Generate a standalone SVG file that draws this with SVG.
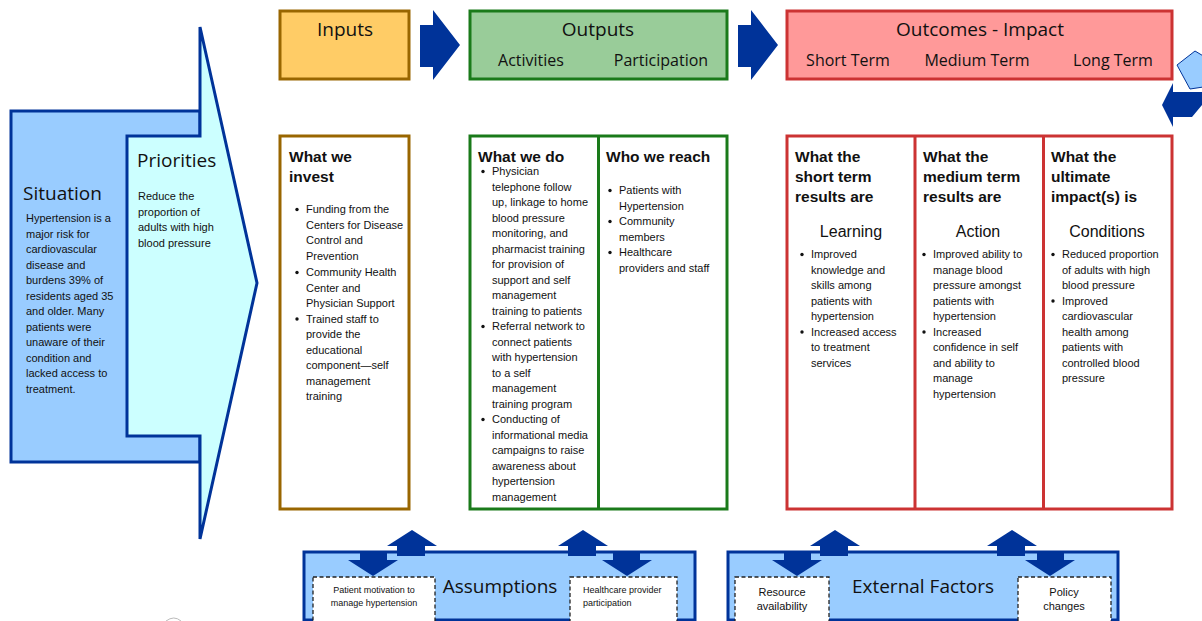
<svg xmlns="http://www.w3.org/2000/svg" width="1202" height="621" viewBox="0 0 1202 621">
<style>
.title{font-family:"Open Sans","Noto Sans",sans-serif;font-size:19px;fill:#111}
.sub{font-family:"Open Sans","Noto Sans",sans-serif;font-size:16px;fill:#111}
.body{font-family:"Liberation Sans",Arial,sans-serif;font-size:11px;fill:#111}
.hd{font-family:"Liberation Sans",Arial,sans-serif;font-size:15.5px;font-weight:bold;fill:#111}
.cat{font-family:"Liberation Sans",Arial,sans-serif;font-size:16px;fill:#111}
.small{font-family:"Liberation Sans",Arial,sans-serif;font-size:9px;fill:#111}
.small2{font-family:"Liberation Sans",Arial,sans-serif;font-size:11px;fill:#111}
.blue{stroke:#003399;stroke-width:3}
.arrow{fill:#003399}
.dash{fill:#fff;stroke:#222;stroke-width:1.3;stroke-dasharray:4 2.5}
</style>

<g id="situation-priorities">
  <rect x="11" y="111" width="189" height="351" fill="#99ccff" class="blue"/>
  <polygon points="127,136 200,136 200,27 257,283 200,539 200,436 127,436" fill="#ccffff" class="blue" stroke-linejoin="miter"/>
  <text class="title" x="23" y="200">Situation</text>
  <text class="body">
    <tspan x="26" y="222">Hypertension is a</tspan>
    <tspan x="26" y="237.5">major risk for</tspan>
    <tspan x="26" y="253">cardiovascular</tspan>
    <tspan x="26" y="268.5">disease and</tspan>
    <tspan x="26" y="284">burdens 39% of</tspan>
    <tspan x="26" y="299.5">residents aged 35</tspan>
    <tspan x="26" y="315">and older. Many</tspan>
    <tspan x="26" y="330.5">patients were</tspan>
    <tspan x="26" y="346">unaware of their</tspan>
    <tspan x="26" y="361.5">condition and</tspan>
    <tspan x="26" y="377">lacked access to</tspan>
    <tspan x="26" y="392.5">treatment.</tspan>
  </text>
  <text class="title" x="137" y="167">Priorities</text>
  <text class="body">
    <tspan x="138" y="200">Reduce the</tspan>
    <tspan x="138" y="215.5">proportion of</tspan>
    <tspan x="138" y="231">adults with high</tspan>
    <tspan x="138" y="246.5">blood pressure</tspan>
  </text>
</g>

<g id="inputs-header">
  <rect x="280" y="11" width="129" height="68" fill="#ffcc66" stroke="#996600" stroke-width="3"/>
  <text class="title" x="345" y="36" text-anchor="middle">Inputs</text>
</g>
<g id="outputs-header">
  <rect x="470" y="11" width="257" height="68" fill="#99cc99" stroke="#1a7a1a" stroke-width="3"/>
  <text class="title" x="598" y="36" text-anchor="middle">Outputs</text>
  <text class="sub" x="531" y="66" text-anchor="middle">Activities</text>
  <text class="sub" x="661" y="66" text-anchor="middle">Participation</text>
</g>
<g id="outcomes-header">
  <rect x="787" y="11" width="385" height="68" fill="#ff9999" stroke="#cc3333" stroke-width="3"/>
  <text class="title" x="980" y="36" text-anchor="middle">Outcomes - Impact</text>
  <text class="sub" x="848" y="66" text-anchor="middle">Short Term</text>
  <text class="sub" x="977" y="66" text-anchor="middle">Medium Term</text>
  <text class="sub" x="1113" y="66" text-anchor="middle">Long Term</text>
</g>

<g id="invest">
  <rect x="280" y="136" width="129" height="373" fill="#fff" stroke="#996600" stroke-width="3"/>
  <text class="hd"><tspan x="289" y="162">What we</tspan><tspan x="289" y="182">invest</tspan></text>
  <g class="body">
    <circle cx="297" cy="209.5" r="1.7" fill="#111"/>
    <circle cx="297" cy="272.5" r="1.7" fill="#111"/>
    <circle cx="297" cy="319" r="1.7" fill="#111"/>
  </g>
  <text class="body">
    <tspan x="306" y="213">Funding from the</tspan>
    <tspan x="306" y="228.5">Centers for Disease</tspan>
    <tspan x="306" y="244">Control and</tspan>
    <tspan x="306" y="259.5">Prevention</tspan>
    <tspan x="306" y="276">Community Health</tspan>
    <tspan x="306" y="291.5">Center and</tspan>
    <tspan x="306" y="307">Physician Support</tspan>
    <tspan x="306" y="322.5">Trained staff to</tspan>
    <tspan x="306" y="338">provide the</tspan>
    <tspan x="306" y="353.5">educational</tspan>
    <tspan x="306" y="369">component—self</tspan>
    <tspan x="306" y="384.5">management</tspan>
    <tspan x="306" y="400">training</tspan>
  </text>
</g>

<g id="outputs">
  <rect x="470" y="136" width="257" height="373" fill="#fff" stroke="#1a7a1a" stroke-width="3"/>
  <line x1="598.5" y1="136" x2="598.5" y2="509" stroke="#1a7a1a" stroke-width="3"/>
</g>
<g id="what-we-do">
  <text class="hd" x="478" y="162">What we do</text>
  <circle cx="483" cy="171.5" r="1.7" fill="#111"/>
  <circle cx="483" cy="326.5" r="1.7" fill="#111"/>
  <circle cx="483" cy="419.5" r="1.7" fill="#111"/>
  <text class="body">
    <tspan x="492" y="175">Physician</tspan>
    <tspan x="492" y="190.5">telephone follow</tspan>
    <tspan x="492" y="206">up, linkage to home</tspan>
    <tspan x="492" y="221.5">blood pressure</tspan>
    <tspan x="492" y="237">monitoring, and</tspan>
    <tspan x="492" y="252.5">pharmacist training</tspan>
    <tspan x="492" y="268">for provision of</tspan>
    <tspan x="492" y="283.5">support and self</tspan>
    <tspan x="492" y="299">management</tspan>
    <tspan x="492" y="314.5">training to patients</tspan>
    <tspan x="492" y="330">Referral network to</tspan>
    <tspan x="492" y="345.5">connect patients</tspan>
    <tspan x="492" y="361">with hypertension</tspan>
    <tspan x="492" y="376.5">to a self</tspan>
    <tspan x="492" y="392">management</tspan>
    <tspan x="492" y="407.5">training program</tspan>
    <tspan x="492" y="423">Conducting of</tspan>
    <tspan x="492" y="438.5">informational media</tspan>
    <tspan x="492" y="454">campaigns to raise</tspan>
    <tspan x="492" y="469.5">awareness about</tspan>
    <tspan x="492" y="485">hypertension</tspan>
    <tspan x="492" y="500.5">management</tspan>
  </text>
</g>
<g id="who-we-reach">
  <text class="hd" x="606" y="162">Who we reach</text>
  <circle cx="610" cy="190.5" r="1.7" fill="#111"/>
  <circle cx="610" cy="221.5" r="1.7" fill="#111"/>
  <circle cx="610" cy="252.5" r="1.7" fill="#111"/>
  <text class="body">
    <tspan x="619" y="194">Patients with</tspan>
    <tspan x="619" y="209.5">Hypertension</tspan>
    <tspan x="619" y="225">Community</tspan>
    <tspan x="619" y="240.5">members</tspan>
    <tspan x="619" y="256">Healthcare</tspan>
    <tspan x="619" y="271.5">providers and staff</tspan>
  </text>
</g>

<g id="outcomes">
  <rect x="787" y="136" width="385" height="373" fill="#fff" stroke="#cc3333" stroke-width="3"/>
  <line x1="915" y1="136" x2="915" y2="509" stroke="#cc3333" stroke-width="3"/>
  <line x1="1043.5" y1="136" x2="1043.5" y2="509" stroke="#cc3333" stroke-width="3"/>
</g>
<g id="short-term">
  <text class="hd"><tspan x="795" y="162">What the</tspan><tspan x="795" y="182">short term</tspan><tspan x="795" y="202">results are</tspan></text>
  <text class="cat" x="851" y="237" text-anchor="middle">Learning</text>
  <circle cx="802" cy="254.5" r="1.7" fill="#111"/>
  <circle cx="802" cy="332" r="1.7" fill="#111"/>
  <text class="body">
    <tspan x="811" y="258">Improved</tspan>
    <tspan x="811" y="273.5">knowledge and</tspan>
    <tspan x="811" y="289">skills among</tspan>
    <tspan x="811" y="304.5">patients with</tspan>
    <tspan x="811" y="320">hypertension</tspan>
    <tspan x="811" y="335.5">Increased access</tspan>
    <tspan x="811" y="351">to treatment</tspan>
    <tspan x="811" y="366.5">services</tspan>
  </text>
</g>
<g id="medium-term">
  <text class="hd"><tspan x="923" y="162">What the</tspan><tspan x="923" y="182">medium term</tspan><tspan x="923" y="202">results are</tspan></text>
  <text class="cat" x="978" y="237" text-anchor="middle">Action</text>
  <circle cx="924" cy="254.5" r="1.7" fill="#111"/>
  <circle cx="924" cy="332" r="1.7" fill="#111"/>
  <text class="body">
    <tspan x="933" y="258">Improved ability to</tspan>
    <tspan x="933" y="273.5">manage blood</tspan>
    <tspan x="933" y="289">pressure amongst</tspan>
    <tspan x="933" y="304.5">patients with</tspan>
    <tspan x="933" y="320">hypertension</tspan>
    <tspan x="933" y="335.5">Increased</tspan>
    <tspan x="933" y="351">confidence in self</tspan>
    <tspan x="933" y="366.5">and ability to</tspan>
    <tspan x="933" y="382">manage</tspan>
    <tspan x="933" y="397.5">hypertension</tspan>
  </text>
</g>
<g id="long-term">
  <text class="hd"><tspan x="1051" y="162">What the</tspan><tspan x="1051" y="182">ultimate</tspan><tspan x="1051" y="202">impact(s) is</tspan></text>
  <text class="cat" x="1107" y="237" text-anchor="middle">Conditions</text>
  <circle cx="1053" cy="254.5" r="1.7" fill="#111"/>
  <circle cx="1053" cy="301" r="1.7" fill="#111"/>
  <text class="body">
    <tspan x="1062" y="258">Reduced proportion</tspan>
    <tspan x="1062" y="273.5">of adults with high</tspan>
    <tspan x="1062" y="289">blood pressure</tspan>
    <tspan x="1062" y="304.5">Improved</tspan>
    <tspan x="1062" y="320">cardiovascular</tspan>
    <tspan x="1062" y="335.5">health among</tspan>
    <tspan x="1062" y="351">patients with</tspan>
    <tspan x="1062" y="366.5">controlled blood</tspan>
    <tspan x="1062" y="382">pressure</tspan>
  </text>
</g>

<g id="assumptions">
  <rect x="304" y="552" width="391" height="68" fill="#99ccff" class="blue"/>
  <rect x="313" y="577" width="122" height="46" class="dash"/>
  <text class="small" text-anchor="middle"><tspan x="374" y="593">Patient motivation to</tspan><tspan x="374" y="606">manage hypertension</tspan></text>
  <rect x="570" y="577" width="107" height="46" class="dash"/>
  <text class="small"><tspan x="583" y="593">Healthcare provider</tspan><tspan x="583" y="606">participation</tspan></text>
  <text class="title" x="500" y="593" text-anchor="middle">Assumptions</text>
</g>
<g id="external-factors">
  <rect x="728" y="552" width="390" height="68" fill="#99ccff" class="blue"/>
  <rect x="735" y="577" width="94" height="46" class="dash"/>
  <text class="small2" text-anchor="middle"><tspan x="782" y="596">Resource</tspan><tspan x="782" y="610">availability</tspan></text>
  <rect x="1018" y="577" width="93" height="46" class="dash"/>
  <text class="small2" text-anchor="middle"><tspan x="1064" y="596">Policy</tspan><tspan x="1064" y="610">changes</tspan></text>
  <text class="title" x="923" y="593" text-anchor="middle">External Factors</text>
</g>

<g id="connectors">
  <polygon class="arrow" points="420,25 433,25 433,10 460,45 433,80 433,67 420,67"/>
  <polygon class="arrow" points="738,25 751,25 751,10 778,45 751,80 751,67 738,67"/>
  <polygon points="1177,65 1195,51 1210,60 1210,86 1190,89" fill="#99ccff" stroke="#003399" stroke-width="1"/>
  <polygon class="arrow" points="1162,105 1173,83 1173,92 1202,92 1202,105 1192,117 1173,117 1173,127"/>
  <g id="assump-arrows">
    <polygon class="arrow" points="412,530 437,546 425,546 425,556 397,556 397,546 387,546"/>
    <polygon class="arrow" points="360,553 387,553 387,560 398,560 373,576 348,560 360,560"/>
    <polygon class="arrow" points="583,530 608,546 596,546 596,556 568,556 568,546 558,546"/>
    <polygon class="arrow" points="613,553 640,553 640,560 652,560 627,576 602,560 613,560"/>
  </g>
  <g id="ext-arrows">
    <polygon class="arrow" points="835,530 860,546 848,546 848,556 820,556 820,546 810,546"/>
    <polygon class="arrow" points="784,553 811,553 811,560 822,560 797,576 772,560 784,560"/>
    <polygon class="arrow" points="1012,530 1037,546 1025,546 1025,556 997,556 997,546 987,546"/>
    <polygon class="arrow" points="1037,553 1064,553 1064,560 1075,560 1050,576 1025,560 1037,560"/>
  </g>
</g>
<path d="M166,621 Q174,615 181,621" fill="none" stroke="#bbb" stroke-width="1"/>
</svg>
